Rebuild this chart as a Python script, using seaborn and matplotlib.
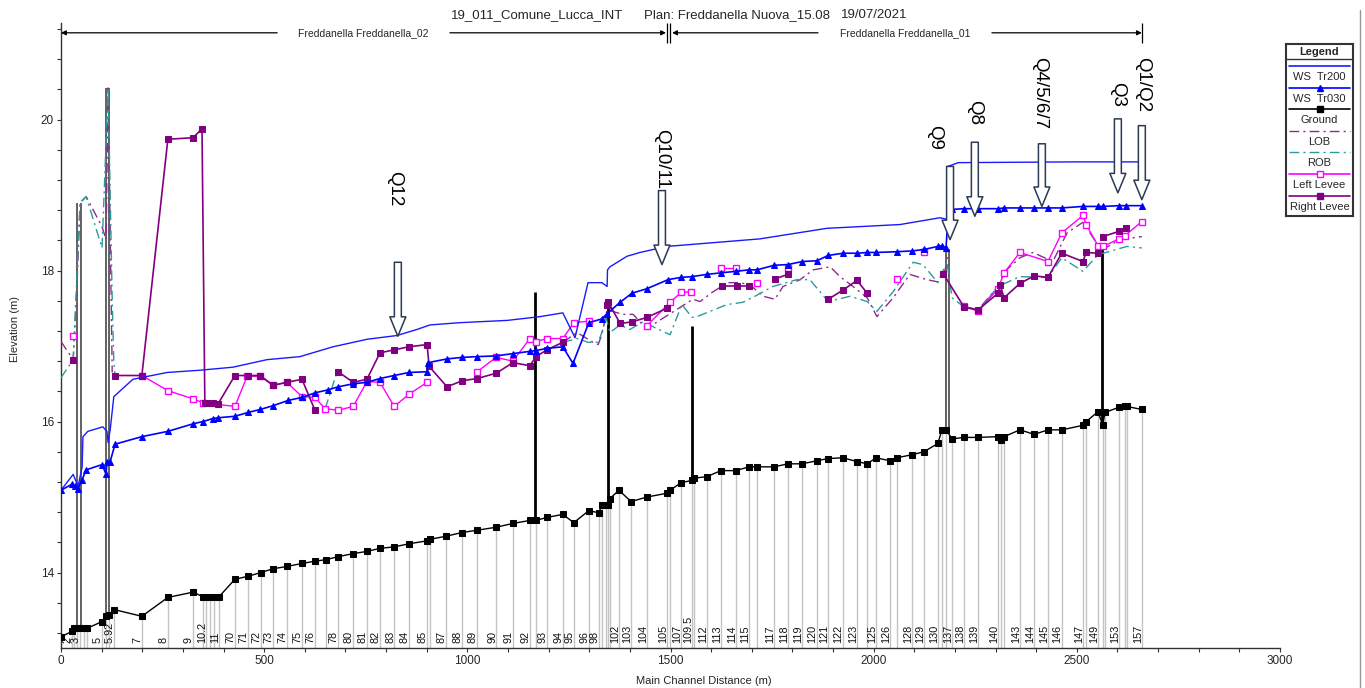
import numpy as np
import pandas as pd
import matplotlib
matplotlib.use('Agg')
import matplotlib.pyplot as plt
from matplotlib.lines import Line2D
import seaborn as sns

nan = np.nan

# ground profile = one point per cross section
ground_dist = [0, 27, 32, 39, 47, 57, 64, 101, 111, 118, 130, 199, 263, 325, 349, 357, 367, 377, 389,
               428, 460, 492, 522, 556, 593, 625, 652, 682, 719, 753, 785, 820, 856, 901, 908, 947,
               987, 1024, 1071, 1112, 1154, 1169, 1196, 1235, 1262, 1299, 1324, 1331, 1341, 1346, 1351,
               1373, 1403, 1442, 1491, 1499, 1526, 1553, 1558, 1590, 1624, 1661, 1693, 1713, 1755,
               1789, 1824, 1860, 1888, 1924, 1959, 1984, 2006, 2040, 2057, 2094, 2124, 2158, 2168,
               2178, 2193, 2222, 2257, 2306, 2313, 2321, 2360, 2395, 2429, 2463, 2515, 2523, 2552,
               2564, 2569, 2604, 2618, 2623, 2660]
ground_elev = [13.15, 13.22, 13.26, 13.26, 13.26, 13.26, 13.26, 13.35, 13.42, 13.44, 13.51, 13.42, 13.67,
               13.74, 13.68, 13.68, 13.68, 13.68, 13.68, 13.91, 13.95, 14.00, 14.05, 14.08, 14.12, 14.15,
               14.17, 14.21, 14.25, 14.28, 14.32, 14.34, 14.38, 14.42, 14.44, 14.48, 14.53, 14.56, 14.60,
               14.65, 14.69, 14.69, 14.73, 14.77, 14.66, 14.82, 14.79, 14.90, 14.89, 14.90, 14.98, 15.09,
               14.94, 15.00, 15.05, 15.09, 15.19, 15.22, 15.25, 15.27, 15.35, 15.35, 15.40, 15.40, 15.40,
               15.44, 15.44, 15.48, 15.51, 15.52, 15.47, 15.44, 15.52, 15.48, 15.52, 15.56, 15.60, 15.71,
               15.89, 15.89, 15.77, 15.79, 15.79, 15.80, 15.76, 15.80, 15.89, 15.83, 15.89, 15.89, 15.95,
               16.00, 16.13, 15.95, 16.12, 16.19, 16.20, 16.20, 16.16]
station_labels = ['', '2', '', '', '3', '', '', '5', '', '', '5.92', '7', '8', '9', '', '10.2', '', '', '11',
                  '70', '71', '72', '73', '74', '75', '76', '', '78', '80', '81', '82', '83', '84', '85', '', '87',
                  '88', '89', '90', '91', '92', '', '93', '94', '95', '96', '98', '', '', '', '',
                  '102', '103', '104', '105', '', '107', '109.5', '', '112', '113', '114', '115', '', '117',
                  '118', '119', '120', '121', '122', '123', '', '125', '126', '', '128', '129', '130', '',
                  '', '137', '138', '139', '140', '', '', '143', '144', '145', '146', '147', '', '149',
                  '', '', '153', '', '', '157']

ws200_dist = [0, 30, 42, 52, 54, 66, 103, 113, 116, 121, 130, 177, 261, 342, 423, 507, 588, 669, 753, 827,
              876, 908, 982, 1098, 1179, 1235, 1265, 1297, 1331, 1344, 1345, 1351, 1393, 1425, 1491, 1720,
              1885, 2065, 2163, 2180, 2183, 2208, 2491, 2660]
ws200_elev = [15.09, 15.30, 15.14, 15.40, 15.80, 15.87, 15.93, 15.87, 15.72, 15.89, 16.33, 16.56, 16.65,
              16.68, 16.72, 16.82, 16.86, 16.99, 17.09, 17.14, 17.22, 17.28, 17.31, 17.34, 17.39, 17.44,
              17.11, 17.84, 17.84, 17.79, 18.01, 18.05, 18.19, 18.24, 18.32, 18.42, 18.56, 18.61, 18.70,
              18.68, 19.38, 19.43, 19.44, 19.44]

ws030_dist = [0, 27, 34, 42, 52, 62, 101, 111, 113, 121, 133, 199, 263, 325, 349, 374, 386, 428, 460, 490,
              522, 559, 593, 625, 657, 682, 719, 753, 785, 820, 856, 901, 903, 950, 987, 1024, 1071, 1112,
              1154, 1169, 1196, 1235, 1260, 1299, 1331, 1344, 1376, 1405, 1442, 1494, 1526, 1553, 1590,
              1624, 1661, 1693, 1713, 1755, 1789, 1824, 1860, 1888, 1924, 1959, 1984, 2006, 2057, 2094,
              2124, 2158, 2168, 2178, 2183, 2193, 2222, 2257, 2306, 2321, 2360, 2395, 2429, 2463, 2515,
              2552, 2564, 2604, 2621, 2660]
ws030_elev = [15.09, 15.17, 15.14, 15.11, 15.23, 15.36, 15.43, 15.30, 15.46, 15.47, 15.70, 15.80, 15.87,
              15.97, 16.00, 16.04, 16.05, 16.07, 16.12, 16.16, 16.21, 16.28, 16.32, 16.38, 16.42, 16.46,
              16.50, 16.52, 16.57, 16.61, 16.65, 16.66, 16.78, 16.83, 16.85, 16.86, 16.87, 16.90, 16.93,
              16.94, 16.97, 16.99, 16.77, 17.31, 17.36, 17.43, 17.58, 17.70, 17.76, 17.88, 17.91, 17.92,
              17.95, 17.97, 17.99, 18.01, 18.01, 18.07, 18.08, 18.12, 18.13, 18.20, 18.23, 18.23, 18.24,
              18.24, 18.25, 18.26, 18.28, 18.32, 18.33, 18.30, 18.70, 18.81, 18.82, 18.82, 18.82, 18.83,
              18.83, 18.83, 18.83, 18.83, 18.85, 18.85, 18.85, 18.86, 18.86, 18.86]

lob_dist = [0, 30, 39, 47, 62, 101, 111, 116, 126, nan, 1235, 1270, 1309, 1322, 1331, 1344, 1383, 1408,
            1442, 1467, 1555, 1573, 1602, 1641, 1671, 1696, 1728, 1757, 1777, 1819, 1851, 1893, 1917,
            1949, 1984, 2008, 2048, 2089, 2131, 2158, 2176, 2183, nan, 2222, 2257, 2306, 2323, 2360,
            2392, 2441, 2476, 2515, 2552, 2564, 2606, 2660]
lob_elev = [17.06, 16.82, 17.75, 18.90, 18.98, 18.58, 18.41, 20.42, 16.65, nan, 17.05, 17.18, 17.05, 17.02,
            17.15, 17.48, 17.42, 17.42, 17.22, 17.32, 17.62, 17.59, 17.71, 17.84, 17.84, 17.81, 17.66,
            17.62, 17.79, 17.88, 18.01, 18.05, 17.92, 17.79, 17.64, 17.39, 17.64, 17.95, 17.88, 17.85,
            18.01, 18.24, nan, 17.52, 17.48, 17.79, 17.99, 18.17, 18.24, 18.12, 18.50, 18.64, 18.34,
            18.28, 18.41, 18.45]

rob_dist = [0, 30, 47, 62, 101, 116, 126, 130, 133, nan, 650, 679, nan, 1235, 1270, 1297, 1322, 1331, 1341,
            1351, 1376, 1400, 1432, 1499, 1528, 1553, 1565, 1639, 1678, 1708, 1752, 1811, 1843, 1888,
            1942, 1984, 2008, 2048, 2097, 2121, 2158, 2180, 2193, 2222, 2257, 2306, 2360, 2429, 2463,
            2515, 2552, 2623, 2660]
rob_elev = [16.58, 16.82, 18.90, 18.98, 18.30, 20.42, 17.62, 16.79, 16.61, nan, 16.17, 16.65, nan, 17.05,
            17.10, 17.05, 17.05, 17.18, 17.38, 17.18, 17.28, 17.22, 17.32, 17.15, 17.55, 17.38, 17.39,
            17.55, 17.58, 17.66, 17.79, 17.88, 17.88, 17.59, 17.66, 17.59, 17.46, 17.72, 18.11, 18.08,
            17.84, 18.12, 17.64, 17.52, 17.46, 17.79, 17.92, 17.91, 18.17, 17.99, 18.21, 18.32, 18.30]

left_levee_dist = [30, nan, 199, 263, 325, 349, 428, 458, 490, 522, 556, 593, 625, 650, 682, 719, 753, 785,
                   820, 856, 901, nan, 1024, 1071, 1112, 1154, 1169, 1196, 1235, 1262, 1299, nan, 1442,
                   1499, 1526, 1550, nan, 1624, 1661, nan, 1713, nan, 1789, nan, 2057, nan, 2124, nan,
                   2222, 2257, 2306, 2321, 2360, 2429, 2463, 2515, 2523, 2552, 2564, 2604, 2618, 2660]
left_levee_elev = [17.14, nan, 16.61, 16.41, 16.30, 16.25, 16.20, 16.60, 16.60, 16.48, 16.52, 16.33, 16.32,
                   16.17, 16.15, 16.20, 16.53, 16.52, 16.20, 16.36, 16.52, nan, 16.66, 16.85, 16.80, 17.10,
                   17.06, 17.10, 17.10, 17.31, 17.33, nan, 17.27, 17.58, 17.71, 17.72, nan, 18.04, 18.04,
                   nan, 17.83, nan, 18.04, nan, 17.89, nan, 18.24, nan, 17.53, 17.46, 17.76, 17.97, 18.24,
                   18.12, 18.50, 18.73, 18.61, 18.33, 18.32, 18.42, 18.46, 18.65]

right_levee_dist = [30, nan, 133, 199, 263, 325, 347, 354, 362, 374, 386, 428, 460, 490, 522, 556, 593, 625,
                    nan, 682, 719, 753, 785, 820, 856, 901, 906, 950, 987, 1024, 1071, 1112, 1154, 1169,
                    1196, 1235, nan, 1344, 1346, 1376, 1405, 1442, 1491, nan, 1627, 1664, 1693, nan, 1757,
                    1789, nan, 1888, 1924, 1959, 1984, nan, 2171, 2222, 2257, 2306, 2311, 2321, 2360, 2395,
                    2429, 2463, 2515, 2523, 2552, nan, 2564, 2604, 2621]
right_levee_elev = [16.82, nan, 16.61, 16.61, 19.74, 19.76, 19.88, 16.25, 16.25, 16.24, 16.23, 16.61, 16.61,
                    16.61, 16.48, 16.52, 16.56, 16.15, nan, 16.66, 16.52, 16.56, 16.91, 16.95, 16.99, 17.02,
                    16.73, 16.46, 16.54, 16.57, 16.64, 16.78, 16.74, 16.86, 16.95, 17.05, nan, 17.55, 17.59,
                    17.30, 17.32, 17.38, 17.50, nan, 17.79, 17.79, 17.79, nan, 17.89, 17.95, nan, 17.62,
                    17.74, 17.87, 17.70, nan, 17.96, 17.52, 17.48, 17.70, 17.81, 17.64, 17.83, 17.93, 17.91,
                    18.23, 18.12, 18.24, 18.23, nan, 18.45, 18.52, 18.56]

# bridges / weirs drawn as vertical bars
struct_dist = [39, 49, 110, 118, 1166, 1346, 1553, 2178, 2186, 2562]
struct_top = [18.90, 18.90, 20.42, 20.42, 17.71, 17.62, 17.26, 18.28, 18.28, 18.30]
struct_bottom = [13.26, 13.26, 13.44, 13.44, 14.69, 15.00, 15.22, 15.88, 15.88, 15.95]

# discharge callouts
q_labels = ['Q12', 'Q10/11', 'Q9', 'Q8', 'Q4/5/6/7', 'Q3', 'Q1/Q2']
q_dist = [829, 1479, 2188, 2249, 2414, 2601, 2660]
q_arrow_top = [18.11, 19.06, 19.38, 19.70, 19.68, 20.01, 19.92]
q_arrow_tip = [17.13, 18.08, 18.41, 18.72, 18.85, 19.03, 18.94]
q_label_dist = [820, 1479, 2151, 2249, 2409, 2601, 2663]
q_label_top = [19.32, 19.87, 19.93, 20.26, 20.83, 20.50, 20.83]


def to_frame(dist, elev):
    df = pd.DataFrame({'dist': dist, 'elev': elev})
    df['seg'] = df['dist'].isna().cumsum()
    return df.dropna().reset_index(drop=True)


sns.set_style('ticks')
plt.rcParams['font.family'] = ['Liberation Sans', 'DejaVu Sans']

fig = plt.figure(figsize=(13.65, 6.88), dpi=100)
ax = fig.add_axes([61 / 1365, 40 / 688, 1219 / 1365, 625 / 688])


def draw(dist, elev, **kw):
    sns.lineplot(data=to_frame(dist, elev), x='dist', y='elev', units='seg', estimator=None,
                 sort=False, legend=False, ax=ax, **kw)


# cross-section lines and names
ax.vlines(ground_dist, 13.0, ground_elev, color='#c4c4c4', lw=1, zorder=1)
for d, lab in zip(ground_dist, station_labels):
    if lab:
        ax.annotate(lab, xy=(d, 13.0), xytext=(-3, 3.5), textcoords='offset points',
                    rotation=90, ha='center', va='bottom', fontsize=7.8, color='#111111')

# structures
for i, (d, t, b) in enumerate(zip(struct_dist, struct_top, struct_bottom)):
    if i in (0, 1, 2, 3, 7, 8):
        ax.vlines(d, b, t, color='#555555', lw=1.3, zorder=3)
    else:
        ax.vlines(d, b, t, color='black', lw=2.0, zorder=3)

dashdot = (0, (7, 3, 1.5, 3))
draw(lob_dist, lob_elev, color='#8e2a8e', lw=1, linestyle=dashdot, zorder=4)
draw(rob_dist, rob_elev, color='#2e9a9a', lw=1, linestyle=dashdot, zorder=4)
draw(left_levee_dist, left_levee_elev, color='#ff00ff', lw=1, marker='s', markersize=4.5,
     markerfacecolor='white', markeredgecolor='#ff00ff', markeredgewidth=1, zorder=5)
draw(right_levee_dist, right_levee_elev, color='#800080', lw=1.2, marker='s', markersize=5,
     markerfacecolor='#800080', markeredgecolor='#800080', zorder=5)
draw(ground_dist, ground_elev, color='black', lw=1, marker='s', markersize=4.5,
     markerfacecolor='black', markeredgecolor='black', zorder=6)
draw(ws200_dist, ws200_elev, color='#1a1aff', lw=1, zorder=6)
draw(ws030_dist, ws030_elev, color='#0000ff', lw=1.2, marker='^', markersize=5,
     markerfacecolor='#0000ff', markeredgecolor='#0000ff', zorder=7)

# Q arrows
for d, top, tip in zip(q_dist, q_arrow_top, q_arrow_tip):
    ax.annotate('', xy=(d, tip), xytext=(d, top), zorder=9,
                arrowprops=dict(arrowstyle='simple,head_length=14,head_width=11.5,tail_width=5',
                                mutation_scale=1, shrinkA=0, shrinkB=0,
                                fc='white', ec='#2b3a55', lw=1.1))
for d, top, lab in zip(q_label_dist, q_label_top, q_labels):
    ax.text(d, top, lab, rotation=270, ha='center', va='top', fontsize=13.5,
            family=['Liberation Sans Narrow', 'Liberation Sans'], color='black', zorder=9)

# reach banner
ry = 21.15
arr = dict(arrowstyle='-|>', lw=0.9, color='black', mutation_scale=7, shrinkA=0, shrinkB=0)
ax.annotate('', xy=(0, ry), xytext=(532, ry), arrowprops=arr, annotation_clip=False)
ax.annotate('', xy=(1489, ry), xytext=(957, ry), arrowprops=arr, annotation_clip=False)
ax.annotate('', xy=(1504, ry), xytext=(1863, ry), arrowprops=arr, annotation_clip=False)
ax.annotate('', xy=(2660, ry), xytext=(2291, ry), arrowprops=arr, annotation_clip=False)
ax.vlines([1492, 1499], 21.02, 21.28, color='black', lw=0.9, clip_on=False)
ax.vlines([2660], 21.02, 21.28, color='black', lw=0.9, clip_on=False)
ax.text(743, ry, 'Freddanella Freddanella_02', ha='center', va='center', fontsize=7.5)
ax.text(2077, ry, 'Freddanella Freddanella_01', ha='center', va='center', fontsize=7.5)

ax.set_xlim(0, 3000)
ax.set_ylim(13.0, 21.28)
ax.set_xticks(np.arange(0, 3001, 500))
ax.set_xticks(np.arange(0, 3001, 100), minor=True)
ax.set_yticks([14, 16, 18, 20])
ax.set_yticks(np.arange(13.2, 21.21, 0.4), minor=True)
ax.tick_params(which='both', length=3, width=0.8, color='#333333', labelsize=8.5, pad=2)
sns.despine(ax=ax)
for s in ('left', 'bottom'):
    ax.spines[s].set_color('#333333')
    ax.spines[s].set_linewidth(1)
ax.set_xlabel('Main Channel Distance (m)', fontsize=8)
ax.set_ylabel('Elevation (m)', fontsize=8)
ax.xaxis.set_label_coords(0.5275, -0.044)
ax.yaxis.set_label_coords(-0.034, 0.51)

# header
hy = 1 - 15 / 688
fig.text(451 / 1365, hy, '19_011_Comune_Lucca_INT', ha='left', va='center', fontsize=9.5)
fig.text(644 / 1365, hy, 'Plan: Freddanella Nuova_15.08', ha='left', va='center', fontsize=9.5)
fig.text(841 / 1365, hy, '19/07/2021', ha='left', va='center', fontsize=9.5)
fig.add_artist(Line2D([1360 / 1365] * 2, [0.0, 0.985], color='#999999', lw=1))

# legend box
lax = fig.add_axes([1286 / 1365, 1 - 216 / 688, 67 / 1365, 172 / 688])
lax.set_xlim(0, 1)
lax.set_ylim(216, 44)
lax.set_xticks([])
lax.set_yticks([])
for s in lax.spines.values():
    s.set_color('#333333')
    s.set_linewidth(1.5)
lax.text(0.5, 52, 'Legend', ha='center', va='center', fontsize=8, fontweight='bold')
lax.axhline(59, color='#333333', lw=1)
entries = [
    ('WS  Tr200', dict(color='#1a1aff', lw=1.2)),
    ('WS  Tr030', dict(color='#0000ff', lw=1.2, marker='^', ms=4, mfc='#0000ff', mec='#0000ff')),
    ('Ground', dict(color='black', lw=1.2, marker='s', ms=4, mfc='black', mec='black')),
    ('LOB', dict(color='#8e2a8e', lw=1, linestyle=dashdot)),
    ('ROB', dict(color='#2e9a9a', lw=1, linestyle=dashdot)),
    ('Left Levee', dict(color='#ff00ff', lw=1.2, marker='s', ms=4, mfc='white', mec='#ff00ff')),
    ('Right Levee', dict(color='#800080', lw=1.2, marker='s', ms=4, mfc='#800080', mec='#800080')),
]
for k, (name, st) in enumerate(entries):
    yl = 66 + k * 21.6
    lax.plot([0.05, 0.5, 0.95], [yl] * 3, markevery=[1], **st)
    lax.text(0.5, yl + 11, name, ha='center', va='center', fontsize=8)

fig.savefig('out.png', dpi=100)
